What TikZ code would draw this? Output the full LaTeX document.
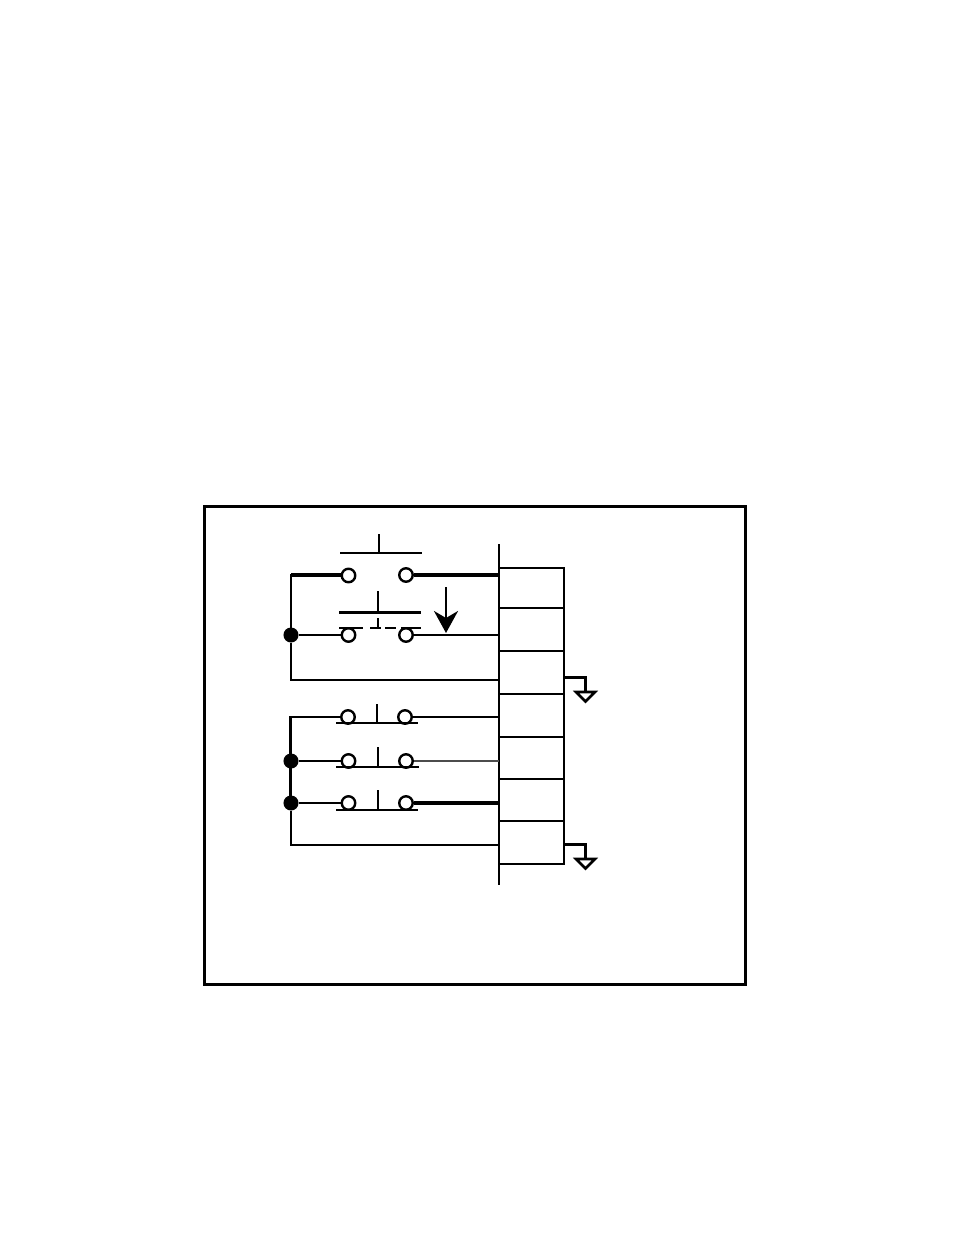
\documentclass[tikz,border=0pt]{standalone}
\usetikzlibrary{arrows.meta}
\tikzset{
  wire/.style = {line width = 2.2pt},
  heavy/.style = {line width = 3.2pt},
  term/.style = {draw, circle, fill = white, line width = 2.4pt, inner sep = 0pt, minimum size = 13.5pt},
  junction/.style = {draw, circle, fill = black, line width = 1pt, inner sep = 0pt, minimum size = 14pt},
  cell/.style = {draw, rectangle, line width = 2.2pt, inner sep = 0pt, minimum width = 65pt}
}
\begin{document}
\begin{tikzpicture}[x = 1pt, y = -1pt, line cap = butt]
\useasboundingbox (0,0) rectangle (954,1235);
\draw[line width = 3pt] (204.5,506.5) rectangle (745.5,984.5);
% terminal block
\foreach \i/\ytop/\ybot in {1/568/608, 2/608/651, 3/651/694, 4/694/737, 5/737/779, 6/779/821, 7/821/864} {
  \node[cell, minimum height = {\ybot-\ytop}] (cell\i) at (531.5,{(\ytop+\ybot)/2}) {};
}
\coordinate (bustop) at (499,544);
\coordinate (busbot) at (499,885);
\draw[wire] (bustop) -- (busbot);
% ground symbols
\foreach \n/\y in {a/677.5, b/844.5} {
  \coordinate (gnd\n) at (564,\y);
  \coordinate (gndtip\n) at (585.5,{\y+14.5});
  \draw[wire] (gnd\n) -| (gndtip\n);
  \draw[line width = 2.6pt, miter limit = 10] (gndtip\n) ++(-9.5,0) -- ++(19,0) -- ++(-9.5,9.5) -- cycle;
}
% contacts
\node[term] (t1a) at (348.5,575.5) {};
\node[term] (t1b) at (406,575) {};
\node[term] (t2a) at (348.5,635) {};
\node[term] (t2b) at (406,635) {};
\node[term] (t3a) at (348,717) {};
\node[term] (t3b) at (405,717) {};
\node[term] (t4a) at (348.5,761) {};
\node[term] (t4b) at (406,761) {};
\node[term] (t5a) at (348.5,803) {};
\node[term] (t5b) at (406,803) {};
\node[junction] (j2) at (291,635) {};
\node[junction] (j4) at (291,761) {};
\node[junction] (j5) at (291,803) {};
\coordinate (bus1) at (499,575);
\coordinate (bus2) at (499,635);
\coordinate (bus3) at (499,680);
\coordinate (bus4) at (499,717);
\coordinate (bus5) at (499,761);
\coordinate (bus6) at (499,803);
\coordinate (bus7) at (499,845);
\coordinate (c1) at (291,575);
\coordinate (c1b) at (342,575);
\coordinate (c3) at (291,680);
\coordinate (c4) at (290.5,717);
\coordinate (c7) at (291,845);
% wiring
\draw[heavy] (c1b) -- (c1);
\draw[wire] (c1) ++(0,-1) -- (j2);
\draw[heavy] (t1b) -- (bus1);
\draw[wire] (j2) -- (t2a);
\draw[wire] (t2b) -- (bus2);
\draw[wire] (j2) |- (bus3);
\draw[wire] (c4) -- (t3a);
\draw[wire] (t3b) -- (bus4);
\draw[heavy] (c4) ++(0,-1) -- (c4 |- j5);
\draw[wire] (j4) -- (t4a);
\draw[wire, black!70] (t4b) -- (bus5);
\draw[wire] (j5) -- (t5a);
\draw[heavy] (t5b) -- (bus6);
\draw[wire] (j5) |- (bus7);
% push buttons
\foreach \xl/\xr/\xs/\ybar/\ytop in {340/422/379/553/534, 336/418/377/723/704, 336/419/378/767/747, 336/418/378/810/790} {
  \draw[wire] (\xl,\ybar) -- (\xr,\ybar);
  \draw[wire] (\xs,\ytop) -- (\xs,\ybar);
}
\draw[heavy] (339,612.5) -- (421,612.5);
\draw[wire] (378,591) -- (378,612.5);
\draw[wire, dash pattern = on 24pt off 7pt on 11pt off 4pt on 11pt off 5pt on 20pt off 5pt] (339,628) -- (421,628);
\draw[wire] (378,618) -- (378,628);
% travel arrow
\coordinate (arrtail) at (446,587);
\coordinate (arrhead) at (446,633);
\draw[line width = 2.6pt, -{Stealth[length = 22pt, width = 24pt, inset = 7pt]}] (arrtail) -- (arrhead);
\end{tikzpicture}
\end{document}
